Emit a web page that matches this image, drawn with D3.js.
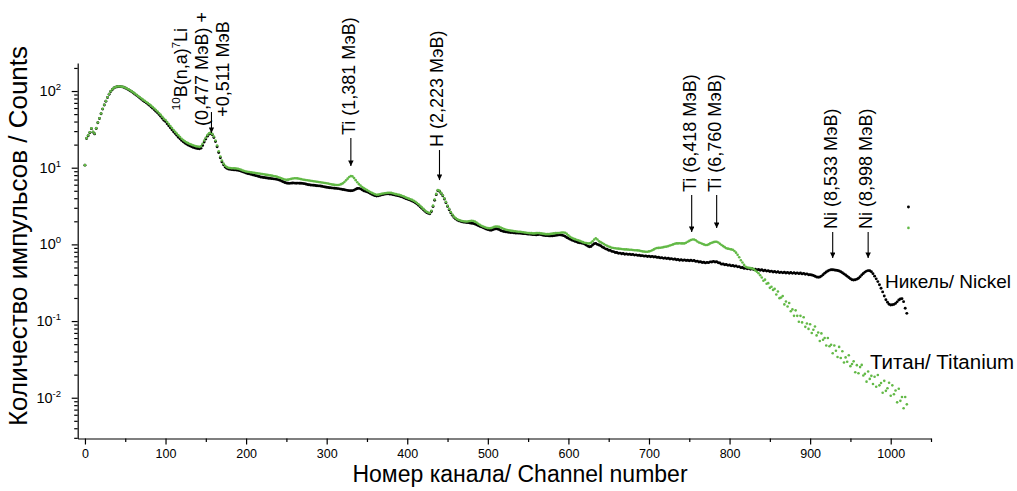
<!DOCTYPE html>
<html>
<head>
<meta charset="utf-8">
<script src="https://cdn.jsdelivr.net/npm/d3@7"></script>
<style>
  body { margin: 0; background: #fff; }
  text { font-family: Arial, "Liberation Sans", sans-serif; fill: #000; }
</style>
</head>
<body>
<svg id="chart" width="1017" height="491"></svg>
<script>
// Channel numbers of the spectrum (every second channel)
const channels = d3.range(0, 1024, 2);

// Nickel spectrum, counts per channel
const nickel = [
  10.8, 24.0, 26.1, 28.6, 32.3, 29.1, 27.6, 32.5, 38.5, 43.8,
  50.6, 58.1, 65.7, 73.6, 82.2, 90.8, 98.5, 104.9, 109.6, 112.3,
  113.7, 114.4, 114.2, 113.4, 111.8, 109.5, 106.8, 104.0, 100.9, 97.7,
  94.5, 91.1, 87.8, 84.6, 81.4, 78.3, 75.4, 72.7, 70.1, 67.6,
  65.0, 62.4, 59.8, 57.2, 54.6, 52.0, 49.4, 46.8, 44.2, 41.6,
  39.9, 37.5, 35.3, 33.2, 31.3, 29.5, 27.9, 26.4, 25.0, 23.8,
  22.7, 21.8, 21.0, 20.3, 19.8, 19.3, 18.9, 18.5, 18.2, 17.9,
  17.8, 17.7, 18.0, 19.5, 21.6, 23.7, 25.8, 27.4, 28.1, 27.0,
  24.8, 21.9, 18.8, 15.8, 13.5, 11.9, 10.9, 10.2, 9.85, 9.62,
  9.52, 9.46, 9.4, 9.36, 9.32, 9.26, 9.15, 9.0, 8.85, 8.68,
  8.52, 8.4, 8.3, 8.2, 8.1, 8.0, 7.88, 7.78, 7.68, 7.58,
  7.5, 7.45, 7.4, 7.35, 7.3, 7.25, 7.2, 7.15, 7.1, 7.05,
  6.96, 6.85, 6.71, 6.56, 6.42, 6.32, 6.26, 6.25, 6.29, 6.32,
  6.3, 6.28, 6.3, 6.28, 6.26, 6.24, 6.19, 6.12, 6.05, 6.0,
  5.95, 5.92, 5.9, 5.86, 5.82, 5.8, 5.77, 5.72, 5.66, 5.6,
  5.55, 5.51, 5.48, 5.45, 5.42, 5.4, 5.37, 5.34, 5.3, 5.25,
  5.2, 5.15, 5.1, 5.06, 5.02, 5.0, 5.02, 5.1, 5.24, 5.35,
  5.38, 5.3, 5.15, 5.01, 4.92, 4.84, 4.74, 4.62, 4.5, 4.4,
  4.32, 4.27, 4.3, 4.35, 4.42, 4.48, 4.52, 4.55, 4.56, 4.54,
  4.52, 4.48, 4.42, 4.37, 4.32, 4.27, 4.21, 4.14, 4.06, 3.97,
  3.9, 3.83, 3.76, 3.68, 3.6, 3.49, 3.37, 3.24, 3.1, 2.96,
  2.83, 2.7, 2.6, 2.54, 2.5, 2.68, 3.12, 3.76, 4.45, 5.02,
  4.93, 4.62, 4.3, 3.9, 3.5, 3.13, 2.83, 2.58, 2.39, 2.25,
  2.15, 2.08, 2.03, 2.0, 1.97, 1.95, 1.94, 1.93, 1.92, 1.9,
  1.89, 1.87, 1.84, 1.8, 1.76, 1.72, 1.69, 1.66, 1.62, 1.59,
  1.56, 1.54, 1.53, 1.55, 1.58, 1.6, 1.59, 1.56, 1.52, 1.49,
  1.47, 1.46, 1.45, 1.44, 1.43, 1.43, 1.42, 1.41, 1.41, 1.4,
  1.4, 1.39, 1.38, 1.38, 1.37, 1.36, 1.36, 1.35, 1.34, 1.34,
  1.33, 1.34, 1.35, 1.34, 1.32, 1.31, 1.3, 1.3, 1.29, 1.29,
  1.29, 1.3, 1.31, 1.32, 1.33, 1.33, 1.32, 1.3, 1.27, 1.23,
  1.2, 1.17, 1.14, 1.12, 1.1, 1.08, 1.06, 1.05, 1.04, 1.03,
  1.01, 0.98, 0.95, 0.93, 0.94, 0.98, 1.02, 1.03, 1.0, 0.98,
  0.96, 0.925, 0.905, 0.875, 0.865, 0.84, 0.835, 0.81, 0.805, 0.785,
  0.785, 0.765, 0.77, 0.755, 0.76, 0.745, 0.752, 0.74, 0.746, 0.735,
  0.74, 0.725, 0.73, 0.718, 0.722, 0.71, 0.714, 0.702, 0.708, 0.696,
  0.702, 0.69, 0.697, 0.684, 0.689, 0.676, 0.68, 0.666, 0.671, 0.657,
  0.664, 0.652, 0.66, 0.646, 0.652, 0.638, 0.645, 0.63, 0.636, 0.622,
  0.63, 0.618, 0.627, 0.615, 0.622, 0.612, 0.62, 0.61, 0.616, 0.6,
  0.604, 0.59, 0.594, 0.58, 0.584, 0.573, 0.582, 0.578, 0.592, 0.588,
  0.6, 0.59, 0.594, 0.576, 0.572, 0.552, 0.556, 0.543, 0.547, 0.533,
  0.538, 0.525, 0.531, 0.519, 0.524, 0.509, 0.512, 0.497, 0.5, 0.486,
  0.492, 0.48, 0.486, 0.474, 0.48, 0.468, 0.474, 0.463, 0.47, 0.459,
  0.466, 0.454, 0.46, 0.448, 0.454, 0.442, 0.448, 0.437, 0.443, 0.432,
  0.439, 0.428, 0.435, 0.425, 0.433, 0.423, 0.431, 0.421, 0.429, 0.419,
  0.427, 0.417, 0.425, 0.415, 0.423, 0.412, 0.419, 0.408, 0.413, 0.401,
  0.402, 0.398, 0.392, 0.384, 0.376, 0.372, 0.375, 0.386, 0.402, 0.42,
  0.436, 0.45, 0.461, 0.466, 0.466, 0.463, 0.46, 0.456, 0.45, 0.44,
  0.426, 0.412, 0.398, 0.384, 0.37, 0.356, 0.346, 0.343, 0.345, 0.352,
  0.362, 0.378, 0.398, 0.418, 0.435, 0.448, 0.455, 0.452, 0.44, 0.415,
  0.385, 0.355, 0.327, 0.298, 0.268, 0.24, 0.212, 0.19, 0.176, 0.166,
  0.162, 0.163, 0.165, 0.17, 0.178, 0.188, 0.194, 0.196, 0.179, 0.147,
  0.126, 3.07
];

// Titanium spectrum, counts per channel
const titanium = [
  10.8, 24.3, 26.4, 28.9, 32.6, 29.4, 27.9, 32.8, 38.9, 44.2,
  51.0, 58.6, 66.2, 74.1, 82.8, 91.5, 99.2, 105.6, 110.1, 112.9,
  114.3, 115.0, 114.8, 114.1, 112.6, 110.4, 107.9, 105.3, 102.2, 99.1,
  96.0, 92.6, 89.4, 86.2, 83.1, 80.0, 77.2, 74.6, 72.0, 69.6,
  67.1, 64.5, 61.9, 59.3, 56.6, 54.0, 51.4, 48.8, 46.1, 43.4,
  41.8, 39.4, 37.1, 34.9, 32.9, 31.0, 29.3, 27.8, 26.4, 25.1,
  23.9, 22.9, 22.1, 21.4, 20.9, 20.4, 20.0, 19.6, 19.3, 19.0,
  18.9, 18.7, 19.0, 20.5, 22.6, 24.6, 26.6, 28.1, 28.7, 27.6,
  25.5, 22.6, 19.5, 16.4, 14.0, 12.4, 11.3, 10.6, 10.2, 10.0,
  9.9, 9.85, 9.82, 9.8, 9.75, 9.68, 9.55, 9.38, 9.2, 9.05,
  8.92, 8.85, 8.78, 8.7, 8.64, 8.58, 8.52, 8.46, 8.4, 8.33,
  8.27, 8.2, 8.12, 8.06, 8.0, 7.94, 7.88, 7.8, 7.72, 7.64,
  7.52, 7.4, 7.26, 7.12, 7.02, 6.96, 6.98, 7.06, 7.15, 7.22,
  7.27, 7.28, 7.25, 7.18, 7.1, 7.02, 6.96, 6.91, 6.86, 6.8,
  6.75, 6.71, 6.66, 6.61, 6.56, 6.51, 6.46, 6.41, 6.36, 6.31,
  6.26, 6.2, 6.13, 6.07, 6.01, 5.97, 5.94, 5.95, 6.0, 6.1,
  6.25, 6.5, 6.84, 7.2, 7.56, 7.8, 7.7, 7.32, 6.88, 6.47,
  6.1, 5.84, 5.6, 5.41, 5.25, 5.1, 4.96, 4.82, 4.7, 4.6,
  4.5, 4.43, 4.45, 4.5, 4.56, 4.61, 4.65, 4.68, 4.7, 4.72,
  4.7, 4.65, 4.58, 4.52, 4.47, 4.42, 4.36, 4.28, 4.2, 4.1,
  4.02, 3.95, 3.88, 3.8, 3.71, 3.6, 3.47, 3.34, 3.19, 3.04,
  2.9, 2.77, 2.67, 2.6, 2.56, 2.75, 3.2, 3.85, 4.55, 5.1,
  5.0, 4.7, 4.38, 3.98, 3.58, 3.2, 2.9, 2.64, 2.45, 2.3,
  2.2, 2.13, 2.08, 2.05, 2.02, 2.0, 1.99, 1.99, 2.0, 2.02,
  2.03, 2.02, 1.98, 1.93, 1.86, 1.8, 1.75, 1.71, 1.68, 1.65,
  1.63, 1.62, 1.63, 1.66, 1.69, 1.71, 1.71, 1.69, 1.66, 1.62,
  1.59, 1.56, 1.54, 1.53, 1.51, 1.5, 1.49, 1.48, 1.47, 1.46,
  1.46, 1.45, 1.44, 1.43, 1.42, 1.41, 1.4, 1.4, 1.39, 1.39,
  1.4, 1.41, 1.4, 1.39, 1.38, 1.37, 1.36, 1.36, 1.36, 1.37,
  1.38, 1.39, 1.4, 1.41, 1.41, 1.42, 1.43, 1.43, 1.42, 1.37,
  1.31, 1.26, 1.22, 1.19, 1.17, 1.15, 1.13, 1.11, 1.09, 1.07,
  1.05, 1.04, 1.03, 1.03, 1.05, 1.1, 1.16, 1.2, 1.16, 1.1,
  1.07, 1.04, 1.01, 0.98, 0.96, 0.94, 0.92, 0.905, 0.895, 0.89,
  0.885, 0.88, 0.875, 0.87, 0.865, 0.86, 0.86, 0.855, 0.85, 0.85,
  0.845, 0.84, 0.84, 0.835, 0.83, 0.82, 0.81, 0.805, 0.8, 0.8,
  0.81, 0.82, 0.84, 0.86, 0.885, 0.895, 0.9, 0.905, 0.91, 0.92,
  0.93, 0.935, 0.95, 0.965, 0.98, 1.0, 1.02, 1.03, 1.03, 1.035,
  1.03, 1.03, 1.03, 1.05, 1.08, 1.11, 1.14, 1.16, 1.16, 1.13,
  1.09, 1.06, 1.04, 1.02, 1.0, 0.98, 0.98, 1.0, 1.03, 1.05,
  1.07, 1.08, 1.08, 1.06, 1.02, 0.98, 0.95, 0.92, 0.89, 0.88,
  0.87, 0.86, 0.85, 0.82, 0.78, 0.73, 0.68, 0.62, 0.58, 0.54,
  0.51, 0.5, 0.495, 0.49, 0.485, 0.475, 0.455, 0.44, 0.42, 0.395,
  0.37, 0.336, 0.347, 0.306, 0.312, 0.271, 0.28, 0.255, 0.263, 0.222,
  0.243, 0.199, 0.203, 0.212, 0.165, 0.18, 0.155, 0.172, 0.134, 0.142,
  0.117, 0.138, 0.117, 0.098, 0.117, 0.096, 0.112, 0.084, 0.093, 0.079,
  0.091, 0.07, 0.077, 0.085, 0.065, 0.071, 0.055, 0.069, 0.057, 0.06,
  0.048, 0.06, 0.047, 0.049, 0.038, 0.048, 0.041, 0.034, 0.046, 0.033,
  0.0403, 0.0288, 0.0336, 0.0295, 0.0358, 0.0258, 0.0276, 0.0298, 0.0215, 0.0266,
  0.0209, 0.0251, 0.0268, 0.0195, 0.0205, 0.0162, 0.022, 0.0176, 0.0193, 0.0151,
  0.0188, 0.0139, 0.0198, 0.0145, 0.0156, 0.0116, 0.0166, 0.0123, 0.0133, 0.0157,
  0.0106, 0.0145, 0.0111, 0.0124, 0.0087, 0.0131, 0.0091, 0.0102, 0.0073, 0.0102,
  0.0082, 1.64
];

// Axis ticks
const xMajorTicks = [0, 100, 200, 300, 400, 500, 600, 700, 800, 900, 1000];
const xMinorTicks = [50, 150, 250, 350, 450, 550, 650, 750, 850, 950, 1050];
const yDecadeExponents = [-2, -1, 0, 1, 2];

// Gamma-line annotations: channel of the arrow, arrow tip and tail in counts, label lines
const lineChannels = [157, 330, 440, 753, 784, 928, 972];
const arrowTips = [28.4, 10.5, 6.9, 1.45, 1.63, 0.664, 0.664];
const arrowTails = [53.2, 24.4, 17.0, 4.4, 4.4, 1.45, 1.45];
const lineLabels = [
  [[["10", true], ["B(n,a)", false], ["7", true], ["Li", false]],
   [["(0,477 МэВ) +", false]],
   [["+0,511 МэВ", false]]],
  [[["Ti (1,381 МэВ)", false]]],
  [[["H (2,223 МэВ)", false]]],
  [[["Ti (6,418 МэВ)", false]]],
  [[["Ti (6,760 МэВ)", false]]],
  [[["Ni (8,533 МэВ)", false]]],
  [[["Ni (8,998 МэВ)", false]]]
];

const seriesNames = ["Никель/ Nickel", "Титан/ Titanium"];
const seriesColors = ["#000000", "#62b946"];

const svg = d3.select("#chart");

const x = d3.scaleLinear().domain([-9, 1050]).range([77.7, 931]);
const y = d3.scaleLog().domain([0.00294, 232]).range([438.5, 63]);

// Axes
const xAxis = svg.append("g").attr("transform", `translate(0,${y.range()[0]})`)
  .call(d3.axisBottom(x).tickValues(xMajorTicks).tickFormat(d3.format("d"))
    .tickSize(6).tickSizeOuter(0).tickPadding(5));
xAxis.selectAll("text").attr("font-size", 12.5).attr("font-family", "Arial, 'Liberation Sans', sans-serif");
svg.append("g").attr("transform", `translate(0,${y.range()[0]})`)
  .call(d3.axisBottom(x).tickValues(xMinorTicks).tickSize(3.5).tickFormat("").tickSizeOuter(0))
  .select(".domain").remove();

const yMajor = yDecadeExponents.map(e => Math.pow(10, e));
const yMinor = [];
for (let e = -3; e <= 2; e++) {
  for (let m = 2; m <= 9; m++) {
    const v = m * Math.pow(10, e);
    if (v >= y.domain()[0] && v <= y.domain()[1]) yMinor.push(v);
  }
}
svg.append("g").attr("transform", `translate(${x.range()[0]},0)`)
  .call(d3.axisLeft(y).tickValues(yMajor).tickSize(6).tickFormat("").tickSizeOuter(0));
svg.append("g").attr("transform", `translate(${x.range()[0]},0)`)
  .call(d3.axisLeft(y).tickValues(yMinor).tickSize(3.5).tickFormat("").tickSizeOuter(0))
  .select(".domain").remove();
svg.selectAll(".domain, .tick line").attr("stroke", "#000").attr("stroke-width", 1.2);

// Power-of-ten labels on the count axis
const yLab = svg.append("g");
yDecadeExponents.forEach(e => {
  const t = yLab.append("text")
    .attr("x", 61).attr("y", y(Math.pow(10, e)) + 5)
    .attr("text-anchor", "end").attr("font-size", 14.5);
  t.append("tspan").text("10");
  t.append("tspan").attr("font-size", 9.5).attr("dy", -6).text(String(e));
});

// Axis titles
svg.append("text")
  .attr("transform", `translate(27,236) rotate(-90)`)
  .attr("text-anchor", "middle").attr("font-size", 26)
  .text("Количество импульсов / Counts");
svg.append("text")
  .attr("x", 520).attr("y", 482)
  .attr("text-anchor", "middle").attr("font-size", 23)
  .text("Номер канала/ Channel number");

// Spectra as dense point clouds; titanium drawn over nickel
[nickel, titanium].forEach((vals, i) => {
  svg.append("g").attr("fill", seriesColors[i])
    .selectAll("circle").data(vals).join("circle")
    .attr("cx", (d, j) => x(channels[j]))
    .attr("cy", d => y(d))
    .attr("r", i === 0 ? 1.45 : 1.3);
});

// Series names next to their curves
svg.append("text").attr("x", 885).attr("y", 288).attr("font-size", 19).text(seriesNames[0]);
svg.append("text").attr("x", 870).attr("y", 369).attr("font-size", 20.5).text(seriesNames[1]);

// Arrow marker
svg.append("defs").append("marker")
  .attr("id", "arrowhead").attr("viewBox", "0 0 10 10")
  .attr("refX", 10).attr("refY", 5)
  .attr("markerWidth", 9).attr("markerHeight", 5.5)
  .attr("markerUnits", "userSpaceOnUse").attr("orient", "auto")
  .append("path").attr("d", "M0,0L10,5L0,10Z").attr("fill", "#000");

const labelSize = 18;
const ann = svg.append("g");
lineChannels.forEach((ch, i) => {
  const ax = x(ch);
  const yTip = y(arrowTips[i]);
  const yTail = y(arrowTails[i]);
  ann.append("line")
    .attr("x1", ax).attr("x2", ax).attr("y1", yTail).attr("y2", yTip)
    .attr("stroke", "#000").attr("stroke-width", 1.1)
    .attr("marker-end", "url(#arrowhead)");
  const lines = lineLabels[i];
  if (lines.length === 1) {
    const t = ann.append("text")
      .attr("transform", `translate(${ax + 4},${yTail - 3}) rotate(-90)`)
      .attr("font-size", labelSize);
    lines[0].forEach(([s]) => t.append("tspan").text(s));
  } else {
    // multi-line reaction label, centred above the arrow
    const baseX = [ax - 24, ax - 3, ax + 18];
    lines.forEach((segs, k) => {
      const t = ann.append("text")
        .attr("transform", `translate(${baseX[k]},69) rotate(-90)`)
        .attr("text-anchor", "middle").attr("font-size", labelSize);
      let raised = false;
      segs.forEach(([s, sup]) => {
        const ts = t.append("tspan").text(s);
        if (sup) { ts.attr("font-size", 11.5).attr("dy", raised ? 0 : -7); raised = true; }
        else { ts.attr("dy", raised ? 7 : 0); raised = false; }
      });
    });
  }
});
</script>
</body>
</html>
